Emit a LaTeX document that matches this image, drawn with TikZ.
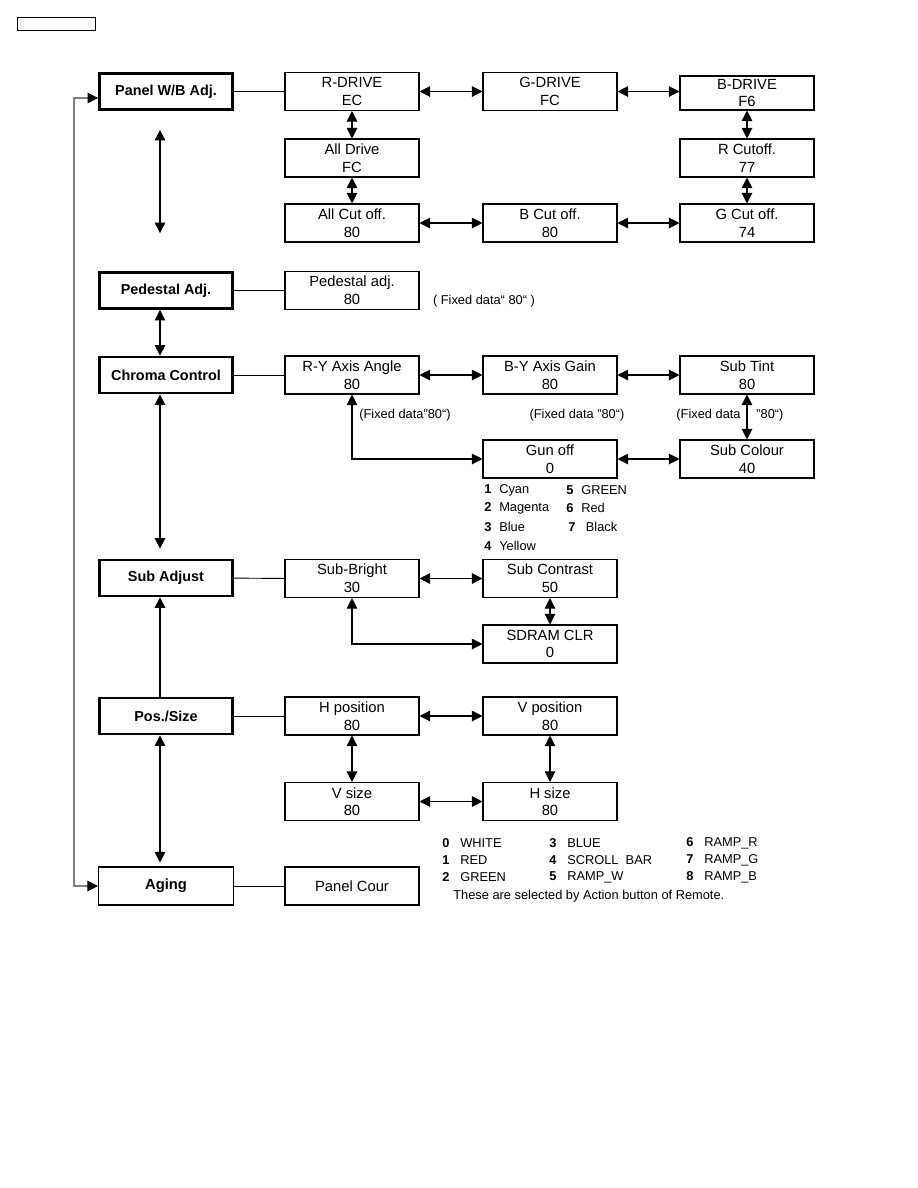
\documentclass[tikz,border=0pt]{standalone}
\usepackage{fontspec}
\setmainfont{Liberation Sans}
\usetikzlibrary{arrows.meta, positioning}
\tikzset{
	menunode/.style={
			shape=rectangle,
			draw=black,
			line width=1.6pt,
			minimum width=2.66cm,
			minimum height=0.72cm,
			inner sep=0pt,
			align=center,
			font=\fontsize{8.2}{10}\selectfont\bfseries
		},
	itemnode/.style={
			shape=rectangle,
			draw=black,
			line width=0.6pt,
			minimum width=2.68cm,
			minimum height=0.76cm,
			inner sep=0pt,
			align=center,
			font=\fontsize{8.4}{10}\selectfont
		},
	notetext/.style={
			inner sep=0pt,
			font=\fontsize{7.3}{8.5}\selectfont
		},
	legendtext/.style={
			notetext,
			anchor=west
		},
	plainline/.style={line width=0.55pt},
	twoway/.style={
			line width=0.6pt,
			{Triangle[length=6pt,width=6pt]}-{Triangle[length=6pt,width=6pt]}
		},
	oneway/.style={
			line width=0.6pt,
			-{Triangle[length=6pt,width=6pt]}
		},
	loopline/.style={
			line width=0.6pt,
			draw=gray,
			{Triangle[length=6pt,width=6pt,color=black]}-{Triangle[length=6pt,width=6pt,color=black]}
		}
}
\newcommand{\num}[2][8.5pt]{\makebox[#1][l]{\bfseries #2}}

\begin{document}
\begin{tikzpicture}[x=0.02cm, y=-0.02cm]

              \useasboundingbox (0,0) rectangle (918,1188);

              \node[draw, thin, minimum width=1.56cm, minimum height=0.26cm, inner sep=0pt, anchor=north west] (hdr) at (17,17) {};

              \coordinate (axis) at (160,0);
              \coordinate (loopin) at (74,98);

              \node[menunode] (pwb) at (166,91.5) {Panel W/B Adj.};
              \node[menunode] (ped) at (166,290.5) {Pedestal Adj.};
              \node[menunode] (chroma) at (166,375) {Chroma Control};
              \node[menunode] (subadj) at (166,578) {Sub Adjust};
              \node[menunode] (possize) at (166,716) {Pos./Size};
              \node[itemnode, minimum width=2.7cm] (aging) at (166,886) {\bfseries Aging};

              \node[itemnode] (rdrive) at (352,91.5) {R-DRIVE\\EC};
              \node[itemnode] (gdrive) at (550,91.5) {G-DRIVE\\FC};
              \node[itemnode, minimum height=0.68cm] (bdrive) at (747,93) {B-DRIVE\\F6};
              \node[itemnode] (alldrive) at (352,158) {All Drive\\FC};
              \node[itemnode] (rcutoff) at (747,158) {R Cutoff.\\77};
              \node[itemnode] (allcut) at (352,223) {All Cut off.\\80};
              \node[itemnode] (bcut) at (550,223) {B Cut off.\\80};
              \node[itemnode] (gcut) at (747,223) {G Cut off.\\74};

              \node[itemnode] (pedadj) at (352,290.5) {Pedestal adj.\\80};
              \node[notetext] (pednote) at (484,301) {( Fixed data“ 80“ )};

              \node[itemnode] (ry) at (352,375) {R-Y Axis Angle\\80};
              \node[itemnode] (by) at (550,375) {B-Y Axis Gain\\80};
              \node[itemnode] (subtint) at (747,375) {Sub Tint\\80};
              \node[notetext] (rynote) at (405,415) {(Fixed data"80“)};
              \node[notetext] (bynote) at (577,415) {(Fixed data "80“)};
              \node[notetext] (tintnote) at (730,415) {(Fixed data\hspace{9pt}"80“)};
              \node[itemnode] (gunoff) at (550,459) {Gun off\\0};
              \node[itemnode] (subcolour) at (747,459) {Sub Colour\\40};

              \node[legendtext] (gun1) at (484,490) {\num{1}Cyan};
              \node[legendtext] (gun2) at (484,508) {\num{2}Magenta};
              \node[legendtext] (gun3) at (484,527) {\num{3}Blue};
              \node[legendtext] (gun4) at (484,546) {\num{4}Yellow};
              \node[legendtext] (gun5) at (566,490) {\num{5}GREEN};
              \node[legendtext] (gun6) at (566,508) {\num{6}Red};
              \node[legendtext] (gun7) at (568,527) {\num[10pt]{7}Black};

              \node[itemnode] (subbright) at (352,578.5) {Sub-Bright\\30};
              \node[itemnode] (subcontrast) at (550,578.5) {Sub Contrast\\50};
              \node[itemnode] (sdram) at (550,644) {SDRAM CLR\\0};

              \node[itemnode] (hpos) at (352,716) {H position\\80};
              \node[itemnode] (vpos) at (550,716) {V position\\80};
              \node[itemnode] (vsize) at (352,801.5) {V size\\80};
              \node[itemnode] (hsize) at (550,801.5) {H size\\80};

              \node[itemnode] (panelcour) at (352,886) {Panel Cour};

              \node[legendtext] (col0) at (442,843) {\num[10.2pt]{0}WHITE};
              \node[legendtext] (col1) at (442,860) {\num[10.2pt]{1}RED};
              \node[legendtext] (col2) at (442,877) {\num[10.2pt]{2}GREEN};
              \node[legendtext] (col3) at (549,843) {\num[10.2pt]{3}BLUE};
              \node[legendtext] (col4) at (549,860) {\num[10.2pt]{4}SCROLL\ \ BAR};
              \node[legendtext] (col5) at (549,877) {\num[10.2pt]{5}RAMP\_W};
              \node[legendtext] (col6) at (686,843) {\num[10.2pt]{6}RAMP\_R};
              \node[legendtext] (col7) at (686,860) {\num[10.2pt]{7}RAMP\_G};
              \node[legendtext] (col8) at (686,877) {\num[10.2pt]{8}RAMP\_B};
              \node[legendtext] (remote) at (453,896) {These are selected by Action button of Remote.};

              \draw[plainline] (pwb) -- (rdrive);
              \draw[twoway] (rdrive) -- (gdrive);
              \draw[twoway] (gdrive.east) -- (gdrive.east -| bdrive.west);
              \draw[twoway] (rdrive) -- (alldrive);
              \draw[twoway] (alldrive) -- (allcut);
              \draw[twoway] (allcut) -- (bcut);
              \draw[twoway] (bcut) -- (gcut);
              \draw[twoway] (bdrive) -- (rcutoff);
              \draw[twoway] (rcutoff) -- (gcut);
              \draw[twoway, shorten <=0.38cm, shorten >=0.76cm] (pwb.south -| axis) -- (ped.north -| axis);

              \draw[plainline] (ped) -- (pedadj);
              \draw[twoway] (ped.south -| axis) -- (chroma.north -| axis);

              \draw[plainline] (chroma) -- (ry);
              \draw[twoway] (ry) -- (by);
              \draw[twoway] (by) -- (subtint);
              \draw[twoway] (subtint) -- (subcolour);
              \draw[twoway] (gunoff) -- (subcolour);
              \draw[twoway] (ry.south) |- (gunoff.west);
              \draw[twoway, shorten >=0.2cm] (chroma.south -| axis) -- (subadj.north -| axis);

              \draw[plainline] (subadj) -- (subbright);
              \draw[twoway] (subbright) -- (subcontrast);
              \draw[twoway] (subcontrast) -- (sdram);
              \draw[twoway] (subbright.south) |- (sdram.west);
              \draw[oneway] (possize.north -| axis) -- (subadj.south -| axis);

              \draw[plainline] (possize) -- (hpos);
              \draw[twoway] (hpos) -- (vpos);
              \draw[twoway] (hpos) -- (vsize);
              \draw[twoway] (vpos) -- (hsize);
              \draw[twoway] (vsize) -- (hsize);
              \draw[twoway, shorten >=0.08cm] (possize.south -| axis) -- (aging.north -| axis);

              \draw[plainline] (aging) -- (panelcour);
              \draw[loopline] (loopin -| pwb.west) -- (loopin) |- (aging.west);

            \end{tikzpicture}
\end{document}
